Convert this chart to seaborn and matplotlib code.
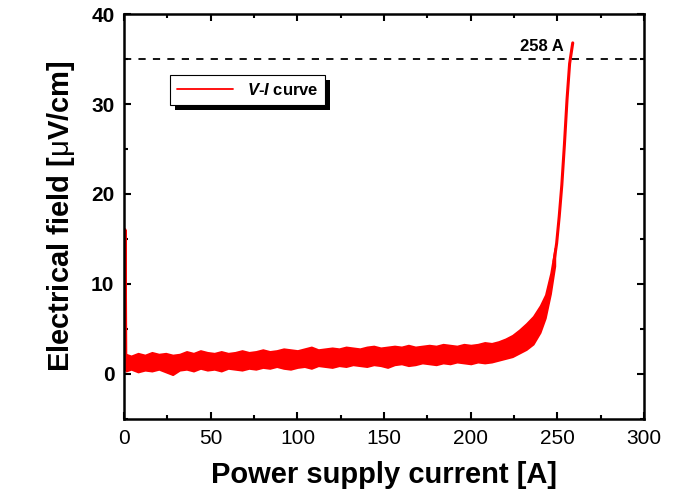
import matplotlib
matplotlib.use("Agg")
import matplotlib.pyplot as plt
import matplotlib.patches as mpatches
from matplotlib.transforms import IdentityTransform
from matplotlib.ticker import MultipleLocator
import pandas as pd
import seaborn as sns

# flat (noisy) part of the V-I curve: envelope
current = [1, 4, 8, 12, 16, 20, 24, 28, 32, 36, 40, 44, 48, 52, 56, 60, 64, 68, 72, 76,
           80, 84, 88, 92, 96, 100, 104, 108, 112, 116, 120, 124, 128, 132, 136, 140, 144, 148, 152, 156,
           160, 164, 168, 172, 176, 180, 184, 188, 192, 196, 200, 204, 208, 212, 216, 220, 224, 228, 232, 236,
           240, 243, 246, 248.5]
field_upper = [2.2, 2.0, 2.3, 2.1, 2.4, 2.2, 2.3, 2.1, 2.2, 2.5, 2.3, 2.6, 2.4, 2.3, 2.5, 2.3, 2.4, 2.6, 2.4, 2.5,
               2.7, 2.5, 2.6, 2.8, 2.7, 2.6, 2.8, 3.0, 2.7, 2.8, 2.9, 2.8, 3.0, 2.9, 2.8, 3.0, 3.1, 2.9, 3.0, 3.1,
               3.0, 3.2, 3.0, 3.1, 3.2, 3.1, 3.3, 3.2, 3.1, 3.3, 3.2, 3.3, 3.5, 3.4, 3.6, 3.9, 4.3, 4.9, 5.6, 6.4,
               7.6, 8.8, 11.2, 14.0]
field_lower = [0.3, 0.5, 0.2, 0.4, 0.3, 0.5, 0.2, -0.1, 0.4, 0.5, 0.3, 0.6, 0.4, 0.5, 0.3, 0.6, 0.5, 0.4, 0.6, 0.5,
               0.7, 0.6, 0.8, 0.6, 0.5, 0.7, 0.8, 0.6, 0.9, 0.8, 0.7, 0.9, 0.8, 1.0, 0.9, 0.8, 1.0, 0.9, 0.7, 1.0,
               1.1, 0.9, 1.0, 1.2, 1.1, 1.0, 1.2, 1.1, 1.3, 1.2, 1.1, 1.3, 1.2, 1.3, 1.5, 1.7, 1.9, 2.3, 2.7, 3.3,
               4.6, 6.2, 8.9, 12.0]

# spike at start + steep rise
curve_i = [0.0, 0.4, 0.8, 1.2, 248, 249.5, 251, 252.5, 254, 255.5, 257, 258.8]
curve_e = [1.0, 16.0, 0.5, 1.5, 12.5, 14.5, 17.5, 21.0, 25.5, 30.5, 34.5, 36.8]

criterion = 35
critical_current = "258 A"

sns.set_style("ticks")
plt.rcParams["font.family"] = ["Liberation Sans", "DejaVu Sans"]
plt.rcParams["mathtext.fontset"] = "custom"
plt.rcParams["mathtext.it"] = "Liberation Sans:italic:bold"
plt.rcParams["mathtext.rm"] = "Liberation Sans"
for k in ["text.color", "axes.labelcolor", "xtick.color", "ytick.color", "axes.edgecolor"]:
    plt.rcParams[k] = "black"

fig, ax = plt.subplots(figsize=(6.86, 5.04), dpi=100)
fig.subplots_adjust(left=0.181, right=0.939, top=0.972, bottom=0.169)

ax.fill_between(current, field_lower, field_upper, color="red", lw=1.2)
df = pd.DataFrame({"I": curve_i[:4], "E": curve_e[:4]})
sns.lineplot(data=df, x="I", y="E", sort=False, estimator=None, color="red", lw=2.6, ax=ax)
df2 = pd.DataFrame({"I": curve_i[4:], "E": curve_e[4:]})
sns.lineplot(data=df2, x="I", y="E", sort=False, estimator=None, color="red", lw=2.2, ax=ax,
             label="$V$-$I$ curve")

ax.axhline(criterion, color="black", lw=1.3, dashes=(4, 4))
ax.text(241, 35.6, critical_current, ha="center", va="bottom", fontsize=12, fontweight="bold")

ax.set_xlim(0, 300)
ax.set_ylim(-5, 40)
ax.xaxis.set_major_locator(MultipleLocator(50))
ax.xaxis.set_minor_locator(MultipleLocator(25))
ax.yaxis.set_major_locator(MultipleLocator(10))
ax.yaxis.set_minor_locator(MultipleLocator(5))
ax.tick_params(which="both", direction="in", top=True, right=True, width=1.5)
ax.tick_params(which="major", length=5)
ax.tick_params(which="minor", length=3)
ax.tick_params(axis="x", labelsize=15, pad=7)
ax.tick_params(axis="y", labelsize=15, pad=7)
for lab in ax.get_yticklabels():
    lab.set_fontweight("bold")
for sp in ax.spines.values():
    sp.set_linewidth(1.8)
    sp.set_visible(True)

ax.set_xlabel("Power supply current [A]", fontsize=21, fontweight="bold", labelpad=10)
ax.set_ylabel("Electrical field [$\\mathrm{\\mu}$V/cm]", fontsize=21, fontweight="bold", labelpad=10)

leg = ax.legend(loc="upper left", bbox_to_anchor=(0.088, 0.849), borderaxespad=0,
                fancybox=False, edgecolor="black", framealpha=1, handlelength=3.4,
                prop={"size": 12, "weight": "bold"})
leg.get_frame().set_linewidth(0.8)
leg.get_lines()[0].set_linewidth(1.3)
leg.set_zorder(6)

fig.canvas.draw()
bb = leg.get_window_extent()
shadow = mpatches.Rectangle((bb.x0 + 5, bb.y0 - 5), bb.width, bb.height, transform=IdentityTransform(),
                            facecolor="black", edgecolor="none", zorder=5.5, clip_on=False)
ax.add_artist(shadow)

fig.savefig("out.png", dpi=100)
